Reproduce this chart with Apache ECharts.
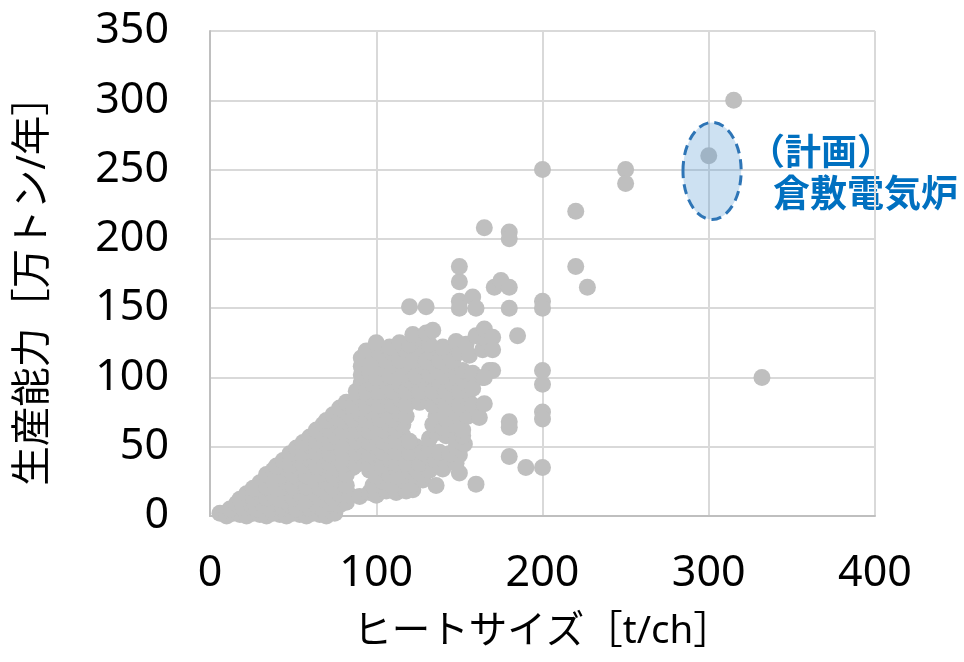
<!DOCTYPE html>
<html>
<head>
<meta charset="utf-8">
<script src="https://cdn.jsdelivr.net/npm/echarts@6/dist/echarts.min.js"></script>
<style>
html,body{margin:0;padding:0;background:#fff;}
#chart{width:964px;height:662px;}
</style>
</head>
<body>
<div id="chart"></div>
<script>
// Heat size [t/ch] vs production capacity [10k t/year]
const denseCluster = [
 [6,2],[10,0],[14,2],[18,1],[22,0],[26,2],[30,1],[34,0],[38,2],[42,1],[46,0],[50,2],[54,1],[58,0],[62,2],[66,1],[70,0],[75,2],
 [12,5],[16,9],[20,6],[24,9],[28,5],[32,8],[36,5],[40,9],[44,6],[48,8],[52,5],[56,9],[60,6],[64,8],[68,5],[72,9],[78,8],[82,10],
 [18,12],[22,16],[26,13],[30,17],[34,13],[38,16],[42,12],[46,17],[50,13],[54,16],[58,12],[62,17],[66,13],[70,16],[74,13],[78,16],[84,15],[90,14],[96,17],[100,15],[106,18],[112,17],[118,18],[122,19],
 [26,20],[30,24],[34,21],[38,25],[42,20],[46,24],[50,21],[54,26],[58,21],[62,25],[66,20],[70,24],[74,21],[78,26],[82,22],[98,22],[104,25],[110,22],[116,26],[122,23],[128,26],[136,22],
 [34,30],[38,33],[42,29],[46,34],[50,30],[54,34],[58,29],[62,33],[66,30],[70,34],[74,29],[78,33],[82,30],[86,35],[96,33],[100,29],[104,34],[108,30],[112,34],[116,29],[120,32],[124,34],[128,30],[132,33],[140,34],[150,31],
 [40,36],[44,40],[48,37],[52,42],[56,37],[60,41],[64,36],[68,42],[72,38],[76,42],[80,37],[84,41],[88,37],[92,42],[96,38],[100,42],[104,37],[108,41],[112,38],[118,38],[122,42],[126,38],[132,42],[136,40],[142,38],[148,38],[150,44],
 [48,45],[52,49],[56,46],[60,51],[64,46],[68,50],[72,45],[76,50],[80,46],[84,51],[88,46],[92,50],[96,45],[100,50],[104,46],[108,51],[112,46],[116,50],[120,46],[124,50],[128,46],[132,48],[138,46],[144,45],[148,50],[153,52],
 [56,53],[60,57],[64,54],[68,58],[72,53],[76,57],[80,54],[84,59],[88,54],[92,58],[96,53],[100,57],[104,54],[108,58],[112,54],[116,58],[120,54],[132,56],[136,60],[142,58],[148,55],[152,58],[150,64],
 [64,62],[68,66],[72,62],[76,66],[80,61],[84,66],[88,62],[92,66],[96,61],[100,66],[104,62],[108,66],[112,62],[116,66],[134,66],[140,64],[146,66],[152,62],
 [70,69],[74,73],[78,70],[82,75],[86,70],[90,74],[94,69],[98,74],[102,70],[106,75],[110,70],[114,74],[118,72],[136,72],[142,70],[148,74],[155,72],
 [78,78],[82,82],[86,80],[90,86],[94,80],[98,85],[102,80],[106,86],[110,80],[114,85],[118,80],[122,86],[126,82],[130,86],[134,80],[138,86],[142,80],[146,86],[150,80],[155,84],[158,80],
 [88,90],[91,96],[94,90],[98,95],[102,90],[106,96],[110,90],[114,95],[118,90],[122,96],[126,90],[130,95],[134,90],[138,96],[142,90],[146,95],[150,90],[154,96],[158,92],
 [91,102],[91,108],[96,104],[100,100],[104,106],[108,101],[112,108],[116,102],[120,107],[124,101],[128,108],[132,102],[136,107],[140,101],[144,108],[148,102],[152,105],[158,103],[164,100],[168,105],
 [91,114],[94,119],[98,112],[102,118],[106,112],[110,118],[114,112],[118,119],[122,112],[126,118],[130,112],[134,118],[138,112],[142,118],[146,112],[150,118],[156,116],[164,120],
 [100,125],[108,122],[114,125],[120,124],[126,128],[132,124],[140,122],[148,126],[154,124],[160,130],[166,128],
 [122,131],[130,132],[134,134]
];
const scatteredPlants = [
 [120,151],[130,151],[150,155],[150,150],[158,158],[160,150],[150,169],[150,180],[171,165],[175,170],[180,165],
 [165,208],[180,205],[180,200],[180,150],[200,155],[200,150],[185,130],[165,135],[170,129],[170,120],[170,105],
 [165,100],[200,105],[200,95],[162,71],[165,81],[180,68],[180,64],[200,75],[200,70],[180,43],[190,35],[200,35],
 [160,23],[220,220],[220,180],[227,165],[200,250],[250,250],[250,240],[315,300],[332,100]
];
const plannedPlant = [[300,260]];
// highlighted region: center x, center y, radius x, radius y (data units)
const highlightEllipse = [[302,249,17.5,35]];
const xTicks = {min:0, max:400, interval:100};
const yTicks = {min:0, max:350, interval:50};
const xName = 'ヒートサイズ［t/ch］';
const yName = '生産能力［万トン/年］';
const noteLine1 = '（計画）';
const noteLine2 = '倉敷電気炉';

const chart = echarts.init(document.getElementById('chart'));
const labelFont = "'Noto Sans','Noto Sans CJK JP',sans-serif";
const pointStyle = {color:'#BFBFBF', opacity:1};
chart.setOption({
  animation:false,
  backgroundColor:'#fff',
  grid:{left:210, right:89, top:31, bottom:146, containLabel:false},
  xAxis:{
    type:'value', min:xTicks.min, max:xTicks.max, interval:xTicks.interval,
    axisLine:{show:true, onZero:false, lineStyle:{color:'#BFBFBF', width:2}},
    axisTick:{show:false},
    splitLine:{show:true, lineStyle:{color:'#D9D9D9', width:2}},
    axisLabel:{fontSize:43, color:'#000', fontFamily:labelFont, margin:36},
    name:xName, nameLocation:'middle', nameGap:97,
    nameTextStyle:{fontSize:38.5, color:'#000', fontFamily:labelFont}
  },
  yAxis:{
    type:'value', min:yTicks.min, max:yTicks.max, interval:yTicks.interval,
    axisLine:{show:true, onZero:false, lineStyle:{color:'#BFBFBF', width:2}},
    axisTick:{show:false},
    splitLine:{show:true, lineStyle:{color:'#D9D9D9', width:2}},
    axisLabel:{fontSize:43, color:'#000', fontFamily:labelFont, margin:41},
    name:yName, nameLocation:'middle', nameGap:157,
    nameTextStyle:{fontSize:39.5, color:'#000', fontFamily:labelFont, padding:[0,15,0,0]}
  },
  series:[
    {type:'scatter', data:denseCluster, symbolSize:17, itemStyle:pointStyle, silent:true, z:2},
    {type:'scatter', data:scatteredPlants, symbolSize:17, itemStyle:pointStyle, silent:true, z:2},
    {type:'scatter', data:plannedPlant, symbolSize:17, itemStyle:pointStyle, silent:true, z:2},
    {type:'custom', data:highlightEllipse, silent:true, z:3,
      renderItem:function(params, api){
        const c = api.coord([api.value(0), api.value(1)]);
        const s = api.size([api.value(2), api.value(3)]);
        return {type:'ellipse', shape:{cx:c[0], cy:c[1], rx:s[0], ry:s[1]},
          style:{fill:'rgba(91,155,213,0.3)', stroke:'#2E75B6', lineWidth:3, lineDash:[10,6]}};
      }
    }
  ],
  graphic:[
    {type:'text', x:821, y:151, style:{text:noteLine1, fill:'#0070C0', font:"bold 36px 'Noto Sans CJK JP'", textAlign:'center', textVerticalAlign:'middle'}},
    {type:'text', x:773, y:193, style:{text:noteLine2, fill:'#0070C0', font:"bold 37px 'Noto Sans CJK JP'", textAlign:'left', textVerticalAlign:'middle'}}
  ]
});
</script>
</body>
</html>
